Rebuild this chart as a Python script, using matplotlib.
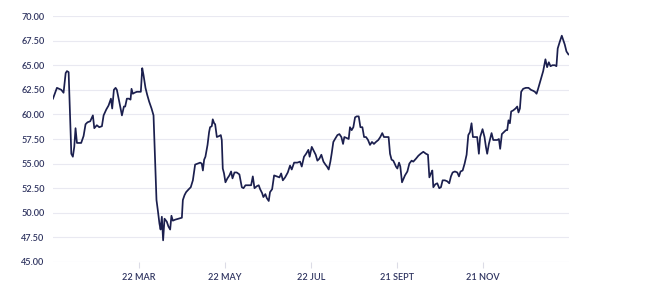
import matplotlib
matplotlib.use("Agg")
import matplotlib.pyplot as plt
import pandas as pd

# day offsets from the first point (21 Jan) and the price
days = [0.0, 2.8, 5.9, 7.5, 9.0, 9.9, 11.1, 13.0, 14.1, 15.1, 16.0, 17.0, 18.4, 20.0,
        21.7, 23.1, 24.5, 26.4, 28.3, 29.3, 31.1, 32.8, 34.7, 35.9, 37.8, 39.4, 41.1,
        42.0, 43.2, 44.4, 45.3, 47.0, 48.9, 50.3, 51.2, 52.4, 53.8, 55.0, 55.7, 56.6,
        57.8, 59.5, 62.3, 63.3, 64.2, 65.6, 66.8, 68.2, 69.9, 71.3, 73.4, 74.4, 75.5,
        76.3, 77.2, 78.1, 79.1, 80.7, 81.9, 83.1, 84.0, 85.0, 86.6, 89.0, 91.4, 92.1,
        93.3, 94.4, 96.3, 97.7, 99.2, 100.8, 102.5, 104.4, 105.5, 106.3, 107.2, 108.1,
        109.6, 110.7, 111.4, 112.6, 113.3, 114.3, 115.0, 116.2, 117.8, 119.0, 119.7,
        120.4, 121.3, 122.3, 123.7, 125.1, 126.3, 127.3, 128.7, 130.3, 132.2, 133.9,
        135.1, 136.5, 138.4, 140.5, 141.7, 142.9, 144.5, 145.9, 146.9, 148.3, 149.2,
        150.6, 151.6, 153.0, 153.9, 155.4, 156.8, 158.7, 160.6, 161.8, 163.0, 164.6,
        166.5, 168.1, 169.3, 171.0, 173.3, 175.2, 176.4, 178.0, 179.5, 181.1, 182.0,
        183.5, 184.9, 186.3, 187.5, 188.9, 190.3, 191.8, 193.2, 194.3, 195.5, 196.7,
        197.6, 198.8, 200.0, 201.7, 203.1, 204.5, 205.7, 206.6, 208.3, 209.7, 210.6,
        211.8, 213.0, 214.2, 215.4, 216.8, 218.0, 219.4, 220.6, 222.0, 223.4, 224.8,
        226.2, 227.6, 229.0, 230.7, 232.1, 233.5, 234.7, 236.6, 238.0, 239.0, 240.1,
        241.3, 242.3, 243.2, 244.2, 245.4, 246.3, 247.5, 249.6, 251.3, 252.7, 254.3,
        255.5, 257.4, 259.1, 260.7, 262.6, 264.5, 265.9, 266.9, 268.0, 269.0, 269.7,
        271.1, 272.5, 273.9, 275.1, 276.3, 277.9, 279.6, 281.0, 282.2, 283.4, 285.0,
        286.7, 287.9, 289.0, 290.5, 291.9, 293.3, 294.5, 295.7, 296.8, 297.8, 299.2,
        300.8, 302.0, 302.9, 304.6, 306.0, 307.0, 307.9, 309.1, 311.0, 312.2, 313.4,
        315.0, 316.2, 317.1, 318.3, 319.7, 321.2, 322.1, 323.0, 324.0, 324.9, 326.3,
        328.0, 329.2, 330.1, 331.1, 332.0, 333.4, 335.3, 337.2, 338.9, 340.5, 341.7,
        342.9, 344.0, 345.2, 346.4, 347.6, 349.2, 350.4, 351.6, 352.8, 354.2, 355.8,
        357.0, 357.9, 359.4, 360.8, 361.7, 362.9, 364.1, 365.5]
price = [61.6, 62.7, 62.5, 62.2, 64.2, 64.4, 64.3, 56.0, 55.7, 56.7, 58.6, 57.1, 57.1, 57.1,
         57.8, 59.0, 59.2, 59.3, 59.9, 58.6, 58.9, 58.7, 58.8, 59.9, 60.5, 60.9, 61.6,
         60.6, 62.5, 62.7, 62.5, 61.3, 59.9, 60.8, 60.8, 61.6, 61.6, 61.5, 62.6, 62.1,
         62.2, 62.3, 62.3, 64.7, 64.0, 62.7, 62.0, 61.3, 60.6, 59.9, 51.3, 50.2, 48.9,
         48.3, 49.6, 47.2, 49.4, 49.1, 48.6, 48.3, 49.7, 49.2, 49.3, 49.4, 49.5, 51.3,
         51.8, 52.1, 52.4, 52.6, 53.3, 54.9, 55.0, 55.1, 55.0, 54.3, 55.4, 55.7,
         56.9, 58.2, 58.7, 58.8, 59.5, 59.1, 59.0, 57.7, 57.8, 57.9, 57.4,
         54.5, 54.0, 53.1, 53.5, 53.8, 54.2, 53.5, 54.1, 54.1, 53.9, 52.6,
         52.5, 52.8, 52.8, 52.8, 53.7, 52.5, 52.7, 52.8, 52.4, 52.0, 51.6,
         51.9, 51.5, 51.2, 52.1, 52.4, 53.8, 53.7, 53.6, 54.0, 53.3, 53.6,
         54.1, 54.8, 54.4, 55.1, 55.1, 55.2, 54.7, 55.7, 56.0, 56.4, 55.7,
         56.7, 56.3, 55.9, 55.3, 55.5, 55.9, 55.2, 54.9, 54.7, 54.4, 55.2,
         56.0, 57.2, 57.5, 57.9, 58.0, 57.7, 57.0, 57.7, 57.6, 57.5, 58.7,
         58.4, 58.7, 59.7, 59.8, 59.8, 58.7, 58.7, 57.7, 57.7, 57.4, 56.9,
         57.2, 57.0, 57.2, 57.4, 57.7, 58.1, 57.7, 57.7, 57.7, 56.0, 55.4,
         55.3, 55.0, 54.7, 54.5, 55.1, 54.7, 53.1, 53.8, 54.2, 55.0, 55.3,
         55.2, 55.5, 55.8, 56.0, 56.2, 56.0, 55.9, 53.6, 54.0, 54.3, 52.6,
         52.9, 53.0, 52.5, 52.6, 53.3, 53.3, 53.2, 53.0, 53.7, 54.1, 54.2,
         54.1, 53.7, 54.2, 54.3, 55.0, 55.9, 57.9, 58.2, 59.1, 57.7, 57.7,
         57.7, 56.0, 57.7, 58.5, 57.7, 56.7, 56.0, 57.0, 58.1, 57.4, 57.4,
         57.4, 57.5, 56.5, 58.0, 58.2, 58.4, 58.4, 59.4, 59.1, 60.3, 60.4,
         60.6, 60.8, 60.2, 60.6, 62.3, 62.6, 62.7, 62.7, 62.5, 62.4, 62.3,
         62.1, 62.6, 63.2, 63.8, 64.4, 65.6, 64.8, 65.3, 64.9, 65.0, 65.0,
         64.9, 66.7, 67.4, 68.0, 67.6, 67.1, 66.4, 66.1]

start = "2020-01-21"
end = "2021-01-21"
tick_dates = ["2020-03-22", "2020-05-22", "2020-07-22", "2020-09-21", "2020-11-21"]
tick_labels = ["22 MAR", "22 MAY", "22 JUL", "21 SEPT", "21 NOV"]
y_ticks = [45, 47.5, 50, 52.5, 55, 57.5, 60, 62.5, 65, 67.5, 70]

dates = pd.Timestamp(start) + pd.to_timedelta(days, unit="D")

text_col = "#2f3460"
line_col = "#1b1f4e"

plt.rcParams['font.family'] = ['Lato', 'DejaVu Sans']

fig = plt.figure(figsize=(6.46, 3.05), dpi=100)
ax = fig.add_axes([0.082, 0.141, 0.799, 0.8065])

ax.plot(dates, price, color=line_col, linewidth=1.25, solid_joinstyle="round")

ax.set_xlim(pd.Timestamp(start), pd.Timestamp(end))
ax.set_ylim(45, 70)
ax.set_yticks(y_ticks)
ax.set_yticklabels(["%.2f" % v for v in y_ticks])
ax.set_xticks(pd.to_datetime(tick_dates))
ax.set_xticklabels(tick_labels)

for s in ax.spines.values():
    s.set_visible(False)
ax.grid(axis="y", color="#e9e9f1", linewidth=0.8)
ax.set_axisbelow(True)
ax.tick_params(axis="y", length=0, pad=6, labelsize=6.6, labelcolor=text_col)
ax.tick_params(axis="x", length=4, width=0.8, color="#dcdce6", pad=4,
               labelsize=6.6, labelcolor=text_col)
for lbl in ax.get_xticklabels() + ax.get_yticklabels():
    lbl.set_fontweight("semibold")

fig.savefig("out.png", dpi=100)
